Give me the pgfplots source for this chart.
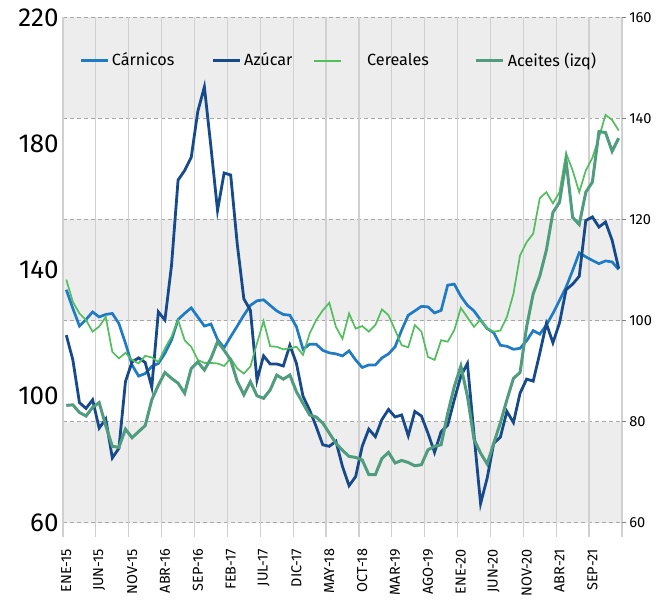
\documentclass[border=0pt]{standalone}
\usepackage{pgfplots}
\usepackage{pgfplotstable}
\pgfplotsset{compat=1.18}
\usepackage{fontspec}
\setmainfont{Fira Sans}
\definecolor{carn}{HTML}{1F7BC4}
\definecolor{azu}{HTML}{174A8A}
\definecolor{cer}{HTML}{52BE5E}
\definecolor{ace}{HTML}{4F9C7E}
\definecolor{bandgray}{HTML}{EDEDED}
\definecolor{gridgray}{HTML}{D0D0D0}
\definecolor{dashgray}{HTML}{A8A8A8}
\begin{document}
\begin{tikzpicture}
\pgfplotstableread{
i carn azu cer ace
0 106.1 97.1 108.1 83.2
1 102.4 92.2 103.7 83.3
2 98.9 83.75 101.4 81.8
3 100.2 82.6 100.1 81.1
4 101.7 84.3 97.8 82.8
5 100.7 78.7 98.8 83.75
6 101.2 80.5 100.7 79.2
7 101.4 72.8 93.8 75.1
8 99.4 74.7 92.5 74.9
9 95.5 87.9 93.6 78.5
10 91.2 91.8 92.2 76.8
11 89.0 92.6 91.5 78.0
12 89.5 91.7 93.0 79.2
13 90.9 86.8 92.7 84.3
14 91.5 101.7 91.8 87.2
15 93.5 100.1 94.5 89.7
16 96.1 110.9 96.8 88.55
17 100.2 127.8 100.1 87.6
18 101.4 129.7 96.1 85.6
19 102.5 132.3 94.8 90.5
20 100.7 141.4 92.2 91.8
21 98.9 146.25 91.6 90.2
22 99.3 134.3 91.6 92.5
23 96.25 121.8 91.5 95.8
24 94.6 129.2 91.0 94.1
25 96.8 128.8 92.5 92.2
26 98.9 115.1 90.5 87.9
27 101.05 104.3 89.5 85.3
28 103.0 102.0 90.9 87.9
29 103.9 88.2 95.5 85.1
30 104.1 93.0 99.9 84.6
31 103.0 91.4 94.9 86.25
32 101.9 91.4 94.8 89.2
33 101.2 91.0 94.3 88.4
34 101.05 95.1 94.5 89.2
35 98.75 91.5 94.8 85.9
36 94.3 85.0 93.2 83.6
37 95.3 82.3 97.4 81.3
38 95.3 79.0 100.1 80.9
39 94.1 75.4 102.0 79.7
40 93.6 75.1 103.5 77.7
41 93.4 76.1 98.75 75.7
42 93.0 71.1 96.4 74.3
43 94.0 67.3 101.4 73.1
44 92.2 69.1 98.4 72.9
45 90.7 75.1 98.9 72.4
46 91.2 78.5 97.8 69.5
47 91.2 77.0 99.1 69.5
48 92.6 80.4 102.2 72.7
49 93.4 82.4 101.05 73.9
50 94.8 80.9 98.1 71.8
51 98.1 81.3 95.1 72.3
52 101.05 77.2 94.7 71.9
53 101.9 82.0 99.1 71.25
54 102.8 81.1 97.8 71.45
55 102.7 77.7 92.8 74.4
56 101.5 73.9 92.2 75.1
57 102.0 78.0 96.1 75.4
58 107.0 79.3 95.8 81.6
59 107.2 84.3 98.1 86.9
60 104.8 89.0 102.5 91.0
61 103.0 91.5 100.6 85.0
62 101.9 77.4 98.75 76.5
63 100.1 63.75 100.2 73.75
64 98.4 68.8 98.4 71.6
65 97.6 75.7 97.8 75.7
66 95.1 76.9 98.0 79.7
67 94.9 82.0 100.7 84.3
68 94.3 79.8 105.3 88.55
69 94.5 85.6 112.9 89.7
70 96.0 88.4 115.5 98.75
71 98.0 88.0 117.2 105.3
72 97.3 93.5 124.2 108.8
73 99.1 99.4 125.4 113.9
74 101.4 95.6 123.2 121.4
75 104.0 99.5 125.4 123.4
76 106.6 106.1 133.1 131.6
77 109.9 107.2 129.7 120.4
78 113.4 108.75 125.4 119.0
79 112.6 119.8 129.7 125.4
80 111.9 120.5 132.2 127.4
81 111.25 118.5 136.25 137.4
82 111.8 119.5 140.7 137.2
83 111.6 115.9 139.7 133.5
84 110.1 110.3 137.6 136.1
}\datatable
\begin{axis}[
  name=ax, at={(0,0)}, anchor=south west,
  scale only axis, width=279.5pt, height=252.6pt,
  set layers=standard,
  xmin=-0.5, xmax=84.5, ymin=60, ymax=160,
  axis line style={draw=none},
  xtick={0,5,...,80},
  xticklabels={ENE-15,JUN-15,NOV-15,ABR-16,SEP-16,FEB-17,JUL-17,DIC-17,MAY-18,OCT-18,MAR-19,AGO-19,ENE-20,JUN-20,NOV-20,ABR-21,SEP-21},
  xtick pos=lower,
  x tick label style={rotate=90, anchor=east, font=\fontsize{7.2}{8}\selectfont, inner sep=1pt},
  xticklabel shift=10pt,
  xtick style={draw=none},
  extra x ticks={-0.5,4.5,...,84.5},
  extra x tick labels={},
  extra x tick style={grid=major, xtick style={draw=gridgray, line width=0.6pt}, major tick length=7pt, tick align=outside},
  every axis x grid/.style={gridgray, line width=0.6pt, solid},
  ytick={60,80,...,160},
  ytick pos=right, yticklabel pos=right,
  ymajorgrids,
  every axis y grid/.style={dashgray, line width=0.6pt, dash pattern=on 2pt off 1.5pt},
  ytick style={draw=black!50, line width=0.4pt},
  major tick length=2pt,
  tick align=outside,
  yticklabel style={font=\fontsize{7.3}{8}\selectfont, inner sep=1.5pt},
  /pgf/number format/assume math mode=true,
  legend columns=4,
  legend style={at={(0.494,0.914)}, anchor=center, draw=none, fill=none,
    font=\fontsize{8.1}{9.5}\selectfont, nodes={inner sep=1.5pt},
    /tikz/every even column/.append style={column sep=0pt}},
  legend image code/.code={\draw[#1] (0pt,0pt) -- (13.5pt,0pt);},
]
\begin{pgfonlayer}{axis background}
\fill[bandgray] (axis cs:-0.5,60) rectangle (axis cs:84.5,80);
\fill[bandgray] (axis cs:-0.5,100) rectangle (axis cs:84.5,120);
\fill[bandgray] (axis cs:-0.5,140) rectangle (axis cs:84.5,160);
\end{pgfonlayer}
\addplot[carn, line width=1.35pt] table[x=i, y=carn] {\datatable};
\addlegendentry{Cárnicos\rule{17pt}{0pt}}
\addplot[azu, line width=1.4pt] table[x=i, y=azu] {\datatable};
\addlegendentry{Azúcar\rule{9pt}{0pt}}
\addplot[cer, line width=0.85pt] table[x=i, y=cer] {\datatable};
\addlegendentry{\rule{11pt}{0pt}Cereales\rule{21.5pt}{0pt}}
\addplot[ace, line width=1.5pt] table[x=i, y=ace] {\datatable};
\addlegendentry{Aceites (izq)}
\end{axis}
\begin{axis}[
  at={(0,0)}, anchor=south west,
  scale only axis, width=279.5pt, height=252.6pt,
  xmin=-0.5, xmax=84.5, ymin=60, ymax=220,
  axis line style={draw=none},
  xtick=\empty,
  ytick={60,100,...,220},
  ytick pos=left,
  major tick length=0pt,
  yticklabel style={font=\fontsize{13}{14}\selectfont, inner sep=2pt},
  /pgf/number format/assume math mode=true,
]
\end{axis}
\pgfresetboundingbox
\path[use as bounding box] (-31.5pt,-40.65pt) rectangle (299pt,261.3pt);
\end{tikzpicture}
\end{document}
